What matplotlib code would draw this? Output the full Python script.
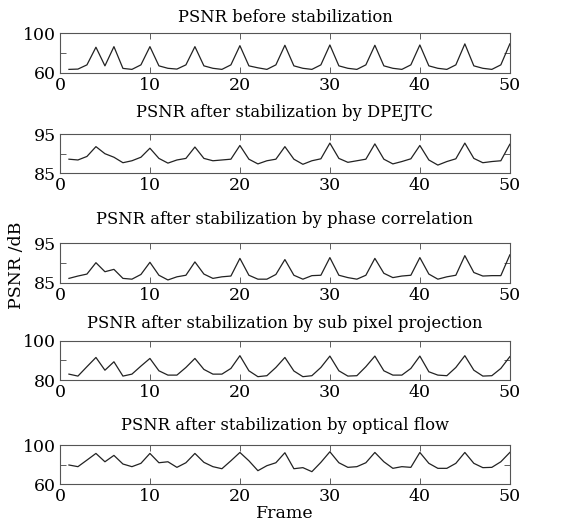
import numpy as np
import matplotlib
matplotlib.use("Agg")
import matplotlib.pyplot as plt

plt.rcParams["font.family"] = "serif"
plt.rcParams["font.serif"] = ["DejaVu Serif"]
plt.rcParams["mathtext.fontset"] = "dejavuserif"

frames = np.arange(1, 51)

psnr_before = [63.4, 63.7, 68.0, 86.0, 67.0, 86.6, 64.4, 63.4, 68.0, 86.6,
               67.0, 64.5, 63.7, 68.0, 86.6, 67.0, 64.5, 63.4, 68.0, 87.6,
               67.0, 65.0, 63.4, 68.0, 88.0, 67.0, 64.5, 63.4, 68.0, 88.3,
               67.0, 64.5, 63.4, 68.0, 88.0, 67.0, 64.5, 63.4, 68.0, 88.3,
               67.0, 64.5, 63.4, 68.0, 89.4, 67.0, 64.5, 63.4, 68.0, 89.4]

psnr_dpejtc = [88.6, 88.4, 89.3, 91.8, 90.0, 89.1, 87.7, 88.2, 89.1, 91.4,
               88.8, 87.6, 88.4, 88.8, 91.7, 88.8, 88.2, 88.4, 88.6, 92.1,
               88.6, 87.4, 88.2, 88.6, 91.8, 88.6, 87.3, 88.2, 88.7, 92.7,
               88.8, 87.8, 88.2, 88.6, 92.5, 88.6, 87.4, 88.0, 88.7, 92.1,
               88.4, 87.1, 88.0, 88.7, 92.7, 88.8, 87.7, 88.0, 88.2, 92.4]

psnr_phase = [86.1, 86.7, 87.2, 90.1, 87.8, 88.4, 86.1, 85.9, 87.1, 90.2,
              86.9, 85.7, 86.5, 86.9, 90.3, 87.2, 86.1, 86.5, 86.7, 91.2,
              86.9, 85.9, 85.9, 87.1, 90.9, 86.9, 85.9, 86.8, 86.9, 91.4,
              86.9, 86.3, 85.9, 86.9, 91.2, 87.4, 86.3, 86.7, 86.9, 91.4,
              87.2, 85.9, 86.5, 86.9, 91.9, 87.6, 86.7, 86.8, 86.8, 92.1]

psnr_subpixel = [83.0, 82.0, 86.8, 91.5, 85.0, 89.3, 82.0, 83.0, 87.1, 91.0,
                 84.7, 82.5, 82.5, 86.4, 91.0, 85.4, 83.0, 83.0, 85.9, 92.4,
                 84.7, 81.7, 82.2, 86.4, 91.5, 84.6, 81.7, 82.2, 86.4, 92.2,
                 84.7, 82.0, 82.2, 86.8, 92.2, 84.7, 82.5, 82.5, 85.9, 92.2,
                 84.2, 82.5, 82.2, 86.4, 92.4, 85.0, 82.0, 82.2, 85.9, 91.9]

psnr_optflow = [79.7, 78.0, 84.7, 91.5, 83.0, 89.5, 80.7, 78.0, 81.4, 91.5,
                82.0, 83.0, 77.3, 82.0, 91.5, 82.4, 78.0, 75.9, 84.0, 92.5,
                84.0, 73.9, 79.0, 82.0, 92.2, 75.9, 77.0, 72.9, 82.4, 93.2,
                82.0, 77.3, 78.0, 82.0, 92.5, 83.0, 76.3, 78.0, 77.3, 92.5,
                81.4, 76.3, 76.3, 81.4, 92.5, 81.4, 77.0, 77.3, 83.0, 92.5]

titles = ["PSNR before stabilization",
          "PSNR after stabilization by DPEJTC",
          "PSNR after stabilization by phase correlation",
          "PSNR after stabilization by sub pixel projection",
          "PSNR after stabilization by optical flow"]
series = [psnr_before, psnr_dpejtc, psnr_phase, psnr_subpixel, psnr_optflow]
ylims = [(60, 100), (85, 95), (85, 95), (80, 100), (60, 100)]

fig = plt.figure(figsize=(5.82, 5.30), dpi=100)
bottoms = [0.8628, 0.673, 0.4666, 0.283, 0.0862]
pads = [8, 12, 14, 9, 11]
axes = []
for i in range(5):
    ax = fig.add_axes([0.103, bottoms[i], 0.773, 0.0740])
    ax.plot(frames, series[i], color="#222222", lw=0.9)
    lo, hi = ylims[i]
    ax.set_xlim(0, 50)
    ax.set_ylim(lo, hi)
    ax.set_xticks(np.arange(0, 51, 10))
    ax.set_yticks([lo, (lo + hi) / 2, hi])
    ax.set_yticklabels([str(lo), "", str(hi)])
    ax.tick_params(direction="in", top=True, right=True, labelsize=12.5,
                   length=4, width=0.6, color="#444444", pad=3)
    for s in ax.spines.values():
        s.set_color("#555555")
        s.set_linewidth(0.8)
    ax.set_title(titles[i], fontsize=11.8, pad=pads[i])
    axes.append(ax)

axes[4].set_xlabel("Frame", fontsize=12.5, labelpad=0)
fig.text(0.028, 0.5, "PSNR /dB", rotation=90, fontsize=12.5,
         ha="center", va="center")

plt.savefig("out.png", dpi=100)
